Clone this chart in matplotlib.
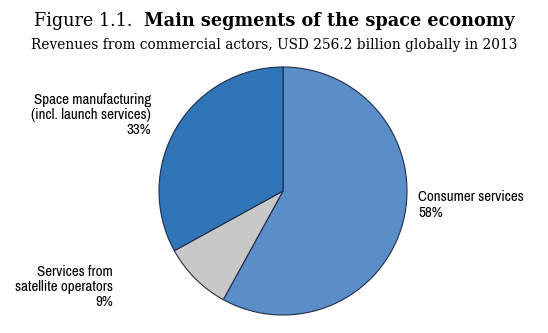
import matplotlib
matplotlib.use("Agg")
import matplotlib.pyplot as plt
from matplotlib import font_manager

# data
segments = ["Consumer services", "Services from\nsatellite operators", "Space manufacturing\n(incl. launch services)"]
shares = [58, 9, 33]
colors = ["#5b8dc8", "#c8c8c8", "#2f75b7"]

names = sorted({f.name for f in font_manager.fontManager.ttflist})
narrow = [n for n in names if "Narrow" in n or "Condensed" in n]
label_font = narrow[0] if narrow else "DejaVu Sans"

fig = plt.figure(figsize=(5.48, 3.33), dpi=100)
fig.patch.set_facecolor("white")

# pie axes: centre ~ (283, 191) px, radius ~123 px
W, H = 548, 333
cx, cy, r = 283, 191, 124
ax = fig.add_axes([(cx - r) / W, 1 - (cy + r) / H, 2 * r / W, 2 * r / H])
ax.pie(shares, colors=colors, startangle=90, counterclock=False,
       wedgeprops=dict(edgecolor="#1f2d4a", linewidth=0.8))
ax.set_aspect("equal")
ax.set_xlim(-1.0, 1.0)
ax.set_ylim(-1.0, 1.0)
ax.axis("off")

# title: regular "Figure 1.1." + bold heading, centred together
serif = "DejaVu Serif"
ty = 1 - 21 / H
a = fig.text(0, ty, "Figure 1.1.  ", ha="left", va="center", family=serif, fontsize=12.7)
b = fig.text(0, ty, "Main segments of the space economy", ha="left", va="center",
             family=serif, fontsize=12.7, weight="bold")
rend = fig.canvas.get_renderer()
wa = a.get_window_extent(rend).width
wb = b.get_window_extent(rend).width
x0 = (W * 0.5 - (wa + wb) / 2)
a.set_x(x0 / W)
b.set_x((x0 + wa) / W)

fig.text(0.5, 1 - 45 / H, "Revenues from commercial actors, USD 256.2 billion globally in 2013",
         ha="center", va="center", family=serif, fontsize=9.9)

# slice labels
lab = dict(family=label_font, fontsize=10.8, linespacing=1.12)
if label_font == "DejaVu Sans":
    lab["stretch"] = "condensed"
    lab["fontsize"] = 9
fig.text(418 / W, 1 - 205 / H, segments[0] + "\n58%", ha="left", va="center", **lab)
fig.text(113 / W, 1 - 287 / H, segments[1] + "\n9%", ha="right", va="center", multialignment="right", **lab)
fig.text(151 / W, 1 - 115 / H, segments[2] + "\n33%", ha="right", va="center", multialignment="right", **lab)

fig.savefig("out.png", dpi=100)
